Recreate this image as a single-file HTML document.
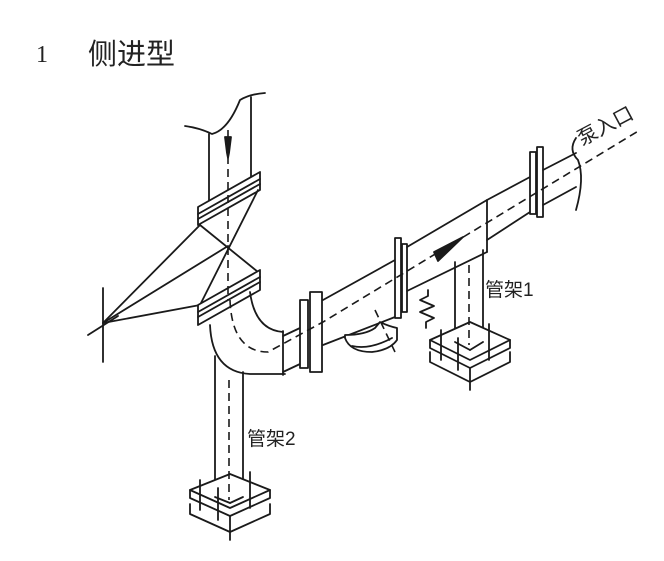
<!DOCTYPE html>
<html><head><meta charset="utf-8"><style>
html,body{margin:0;padding:0;background:#fff;}
svg{display:block}
text{font-family:"Liberation Sans","Noto Sans CJK SC",sans-serif;fill:#222}
</style></head><body>
<svg width="664" height="561" viewBox="0 0 664 561" xmlns="http://www.w3.org/2000/svg">
<text x="36" y="62" font-size="24" style="font-family:'Liberation Serif',serif">1</text>
<text x="88" y="64" font-size="29" style="font-family:'Noto Sans CJK SC',sans-serif">侧进型</text>

<g stroke="#1a1a1a" stroke-width="1.8" fill="none" stroke-linecap="round" stroke-linejoin="round">
<path d="M185 126 Q200 128 212 134 Q228 130 240 100 Q250 94 265 93"/>
<line x1="209" y1="134" x2="209" y2="206"/>
<line x1="251" y1="97" x2="251" y2="180"/>
<path d="M225 137 L231 137 L229 153 L228 158 L227 153 Z" fill="#1a1a1a"/>
<path d="M198 207 L260 172 L260 190 L198 225 Z" fill="#fff"/>
<line x1="198" y1="214" x2="260" y2="179"/>
<line x1="198" y1="219" x2="260" y2="184"/>
<line x1="200" y1="225" x2="258" y2="272"/>
<line x1="258" y1="190" x2="200" y2="305"/>
<line x1="103" y1="323" x2="200" y2="225"/>
<line x1="103" y1="323" x2="228" y2="246"/>
<line x1="103" y1="323" x2="200" y2="305"/>
<line x1="103" y1="288" x2="103" y2="362"/>
<line x1="88" y1="335" x2="118" y2="316"/>
<path d="M198 305 L260 270 L260 290 L198 325 Z" fill="#fff"/>
<line x1="198" y1="312" x2="260" y2="277"/>
<line x1="198" y1="317" x2="260" y2="282"/>
<path d="M210 325 Q212 372 250 374 L285 374"/>
<path d="M250 292 Q255 330 283 332"/>
<line x1="283" y1="331" x2="283" y2="375"/>
<line x1="283" y1="336" x2="300" y2="328"/>
<line x1="283" y1="372" x2="300" y2="364"/>
<rect x="300" y="300" width="8" height="68" fill="#fff"/>
<rect x="310" y="292" width="12" height="80" fill="#fff"/>
<line x1="323" y1="300" x2="395" y2="260"/>
<line x1="323" y1="345" x2="395" y2="317"/>
<path d="M345 338 Q350 352 372 352 Q390 350 397 340 L397 328 Q388 326 380 322 L375 328 Q365 335 345 335 Z" fill="#fff"/>
<path d="M352 346 Q370 350 392 338"/>
<rect x="395" y="238" width="6" height="80" fill="#fff"/>
<rect x="402" y="244" width="5" height="68" fill="#fff"/>
<line x1="407" y1="247" x2="487" y2="200"/>
<line x1="407" y1="291" x2="487" y2="252"/>
<line x1="487" y1="200" x2="487" y2="252"/>
<line x1="487" y1="200" x2="530" y2="177"/>
<line x1="487" y1="240" x2="530" y2="212"/>
<rect x="530" y="152" width="6" height="62" fill="#fff"/>
<rect x="537" y="147" width="6" height="70" fill="#fff"/>
<line x1="543" y1="170" x2="576" y2="153"/>
<line x1="543" y1="205" x2="576" y2="187"/>
<path d="M576 138 Q568 150 578 160 Q585 178 576 210"/>
<path d="M434 252 L463 237 L438 261 Z" fill="#1a1a1a"/>
<line x1="455" y1="262" x2="455" y2="342"/>
<line x1="483" y1="250" x2="483" y2="342"/>
<path d="M430 340 L470 322 L510 340 L470 360 Z" fill="#fff"/>
<path d="M430 340 L430 348 L470 368 L510 348 L510 340"/>
<path d="M430 352 L430 362 L470 382 L510 362 L510 352"/>
<line x1="470" y1="368" x2="470" y2="390"/>
<line x1="455" y1="342" x2="470" y2="350"/>
<line x1="483" y1="342" x2="470" y2="350"/>
<line x1="441" y1="330" x2="441" y2="360"/>
<line x1="458" y1="338" x2="458" y2="370"/>
<line x1="489" y1="324" x2="489" y2="360"/>
<path d="M428 290 L428 296 L420 300 L434 306 L420 312 L434 318 L426 322 L426 328"/>
<line x1="215" y1="356" x2="215" y2="500"/>
<line x1="243" y1="372" x2="243" y2="497"/>
<path d="M190 490 L230 474 L270 490 L230 508 Z" fill="#fff"/>
<path d="M190 490 L190 498 L230 516 L270 498 L270 490"/>
<path d="M190 504 L190 514 L230 532 L270 514 L270 504"/>
<line x1="230" y1="516" x2="230" y2="540"/>
<line x1="215" y1="497" x2="230" y2="503"/>
<line x1="243" y1="497" x2="230" y2="503"/>
<line x1="200" y1="480" x2="200" y2="510"/>
<line x1="218" y1="488" x2="218" y2="520"/>
<line x1="250" y1="472" x2="250" y2="508"/>
</g>
<g stroke="#1a1a1a" stroke-width="1.6" fill="none" stroke-dasharray="8,5">
<line x1="228" y1="130" x2="228" y2="300"/>
<path d="M230 300 Q232 352 268 352 L323 322 L640 130"/>
<line x1="229" y1="380" x2="229" y2="500"/>
<line x1="469" y1="265" x2="469" y2="345"/>
<line x1="375" y1="310" x2="395" y2="352"/>
</g>
<text x="485" y="296" font-size="19">管架1</text>
<text x="247" y="445" font-size="19">管架2</text>
<text x="0" y="0" font-size="20" transform="translate(582,146) rotate(-28)">泵入口</text>
</svg>
</body></html>
